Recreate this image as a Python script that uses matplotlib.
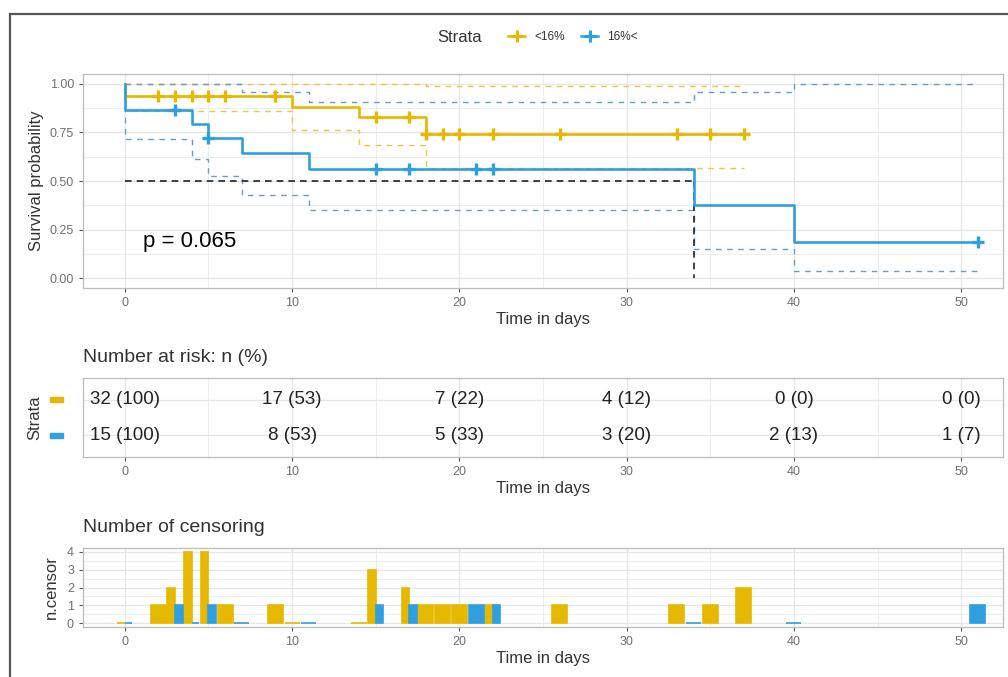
import matplotlib
matplotlib.use("Agg")
import matplotlib.pyplot as plt
from matplotlib.lines import Line2D
from matplotlib.patches import Rectangle
import matplotlib.transforms as mtransforms
import numpy as np

plt.rcParams['font.family'] = ['Liberation Sans', 'DejaVu Sans']

# ---- data ----
strata = ["<16%", "16%<"]
colors = ["#E7B800", "#2E9FDF"]

# Kaplan-Meier steps (time, survival) and confidence bands
km_yel_t = [0, 0, 10, 14, 18, 37]
km_yel_s = [1.0, 0.938, 0.882, 0.827, 0.744, 0.744]
km_yel_up = [1.0, 1.0, 1.0, 1.0, 0.99, 0.99]
km_yel_lo = [1.0, 0.86, 0.762, 0.683, 0.565, 0.565]

km_blu_t = [0, 0, 4, 5, 7, 11, 34, 40, 51]
km_blu_s = [1.0, 0.867, 0.794, 0.722, 0.642, 0.562, 0.375, 0.188, 0.188]
km_blu_up = [1.0, 1.0, 1.0, 1.0, 0.955, 0.905, 0.955, 1.0, 1.0]
km_blu_lo = [1.0, 0.715, 0.615, 0.525, 0.43, 0.35, 0.15, 0.038, 0.038]

cens_yel_t = [0, 2, 3, 4, 5, 6, 9, 10, 14, 15, 17, 18, 19, 20, 22, 26, 33, 35, 37]
cens_yel_n = [0, 1, 2, 4, 4, 1, 1, 0, 0, 3, 2, 1, 1, 1, 1, 1, 1, 1, 2]
cens_blu_t = [0, 3, 4, 5, 7, 11, 15, 17, 21, 22, 34, 40, 51]
cens_blu_n = [0, 1, 0, 1, 0, 0, 1, 1, 1, 1, 0, 0, 1]

median_time = 34
pval_text = "p = 0.065"

risk_times = [0, 10, 20, 30, 40, 50]
risk_yel_n = [32, 17, 7, 4, 0, 0]
risk_yel_pct = [100, 53, 22, 12, 0, 0]
risk_blu_n = [15, 8, 5, 3, 2, 1]
risk_blu_pct = [100, 53, 33, 20, 13, 7]

TICK_C = "#707070"
LAB_C = "#333333"
GRID_C = "#E6E6E6"
BORDER_C = "#BDBDBD"
XLIM = (-2.5, 52.5)


def style_axes(ax):
    ax.set_facecolor("white")
    for s in ax.spines.values():
        s.set_color(BORDER_C)
        s.set_linewidth(0.9)
    ax.set_axisbelow(True)
    ax.grid(which="major", color=GRID_C, lw=0.9)
    ax.grid(which="minor", color=GRID_C, lw=0.5)
    ax.tick_params(which="major", colors="#555555", labelcolor=TICK_C, labelsize=9, length=3)
    ax.tick_params(which="minor", length=0)
    ax.set_xlim(*XLIM)
    ax.set_xticks([0, 10, 20, 30, 40, 50])
    ax.set_xticks([5, 15, 25, 35, 45], minor=True)


def censor_y(times, t_steps, s_steps):
    idx = np.searchsorted(t_steps, times, side="right") - 1
    return np.asarray(s_steps)[idx]


fig = plt.figure(figsize=(10.08, 6.77), dpi=100)
W, H = 1008, 677


def box(top, bottom, left=83, right=1003):
    return [left / W, 1 - bottom / H, (right - left) / W, (bottom - top) / H]


# ---- survival curves ----
ax1 = fig.add_axes(box(74, 288))
style_axes(ax1)
ax1.set_ylim(-0.05, 1.05)
ax1.set_yticks([0, 0.25, 0.5, 0.75, 1.0])
ax1.set_yticks([0.125, 0.375, 0.625, 0.875], minor=True)
ax1.set_yticklabels(["0.00", "0.25", "0.50", "0.75", "1.00"])

curves = [
    (km_yel_t, km_yel_s, km_yel_up, km_yel_lo, cens_yel_t, cens_yel_n),
    (km_blu_t, km_blu_s, km_blu_up, km_blu_lo, cens_blu_t, cens_blu_n),
]
ci_colors = ["#EBC640", "#6A9CC4"]
for (t, s, up, lo, ct, cn), col in zip(curves, ci_colors):
    ax1.step(t, up, where="post", color=col, lw=1.0, ls=(0, (4, 4)))
    ax1.step(t, lo, where="post", color=col, lw=1.0, ls=(0, (4, 4)))

ax1.plot([0, median_time], [0.5, 0.5], color="#222222", lw=1.2, ls=(0, (4, 3)))
ax1.plot([median_time, median_time], [0.5, 0], color="#222222", lw=1.2, ls=(0, (4, 3)))

for (t, s, up, lo, ct, cn), col in zip(curves, colors):
    ax1.step(t, s, where="post", color=col, lw=1.9)
    marks = [tt for tt, n in zip(ct, cn) if n > 0]
    ax1.plot(marks, censor_y(marks, t, s), ls="none", marker="+", ms=8, mew=2.4, color=col)

ax1.text(1.1, 0.19, pval_text, fontsize=16, color="black", va="center", ha="left")
ax1.set_xlabel("Time in days", fontsize=12, color=LAB_C, labelpad=2)
ax1.set_ylabel("Survival probability", fontsize=12, color=LAB_C, labelpad=4)

# legend at top
fig.text(460 / W, 1 - 37 / H, "Strata", fontsize=12, color=LAB_C, ha="center", va="center")
handles = [Line2D([], [], color=c, lw=1.8, marker="+", ms=8, mew=2.2) for c in colors]
fig.legend(handles, strata, loc="center", bbox_to_anchor=(573 / W, 1 - 37 / H), ncol=2,
           frameon=False, fontsize=8.5, handlelength=1.4, handletextpad=0.8,
           columnspacing=1.4, labelcolor=LAB_C)

# ---- risk table ----
ax2 = fig.add_axes(box(378, 457))
style_axes(ax2)
ax2.set_ylim(0.4, 2.6)
ax2.set_yticks([1, 2])
ax2.set_yticklabels(["", ""])
ax2.tick_params(axis="y", length=0)
for x, n, p in zip(risk_times, risk_yel_n, risk_yel_pct):
    ax2.text(x, 2, f"{n} ({p})", ha="center", va="center", fontsize=13.5, color="#222222")
for x, n, p in zip(risk_times, risk_blu_n, risk_blu_pct):
    ax2.text(x, 1, f"{n} ({p})", ha="center", va="center", fontsize=13.5, color="#222222")
trans = mtransforms.blended_transform_factory(fig.transFigure, ax2.transData)
for yrow, col in zip([2, 1], colors):
    ax2.add_patch(Rectangle((50 / W, yrow - 0.08), 13 / W, 0.16, transform=trans,
                            color=col, clip_on=False))
ax2.set_xlabel("Time in days", fontsize=12, color=LAB_C, labelpad=2)
ax2.set_ylabel("Strata", fontsize=12, color=LAB_C, labelpad=26)
fig.text(83 / W, 1 - 358 / H, "Number at risk: n (%)", fontsize=14, color=LAB_C,
         ha="left", va="center")

# ---- number of censoring ----
ax3 = fig.add_axes(box(548, 627))
style_axes(ax3)
ax3.set_ylim(-0.2, 4.2)
ax3.set_yticks([0, 1, 2, 3, 4])
ax3.set_yticks([0.5, 1.5, 2.5, 3.5], minor=True)
bw = 0.9
both = set(cens_yel_t) & set(cens_blu_t)
for k, (ct, cn, col) in enumerate([(cens_yel_t, cens_yel_n, colors[0]),
                                    (cens_blu_t, cens_blu_n, colors[1])]):
    for t, n in zip(ct, cn):
        if t in both:
            left = t - bw / 2 + k * bw / 2
            w = bw / 2
        else:
            left = t - bw / 2
            w = bw
        ax3.bar(left, n, width=w, align="edge", color=col, edgecolor=col, lw=1.2)
ax3.set_xlabel("Time in days", fontsize=12, color=LAB_C, labelpad=2)
ax3.set_ylabel("n.censor", fontsize=12, color=LAB_C, labelpad=6)
fig.text(83 / W, 1 - 528 / H, "Number of censoring", fontsize=14, color=LAB_C,
         ha="left", va="center")

# outer frame lines (top and left)
fig.add_artist(Line2D([10 / W, 1], [1 - 14 / H, 1 - 14 / H], color="#555555", lw=1.6))
fig.add_artist(Line2D([10 / W, 10 / W], [0, 1 - 14 / H], color="#555555", lw=1.6))

fig.savefig("out.png", dpi=100)
